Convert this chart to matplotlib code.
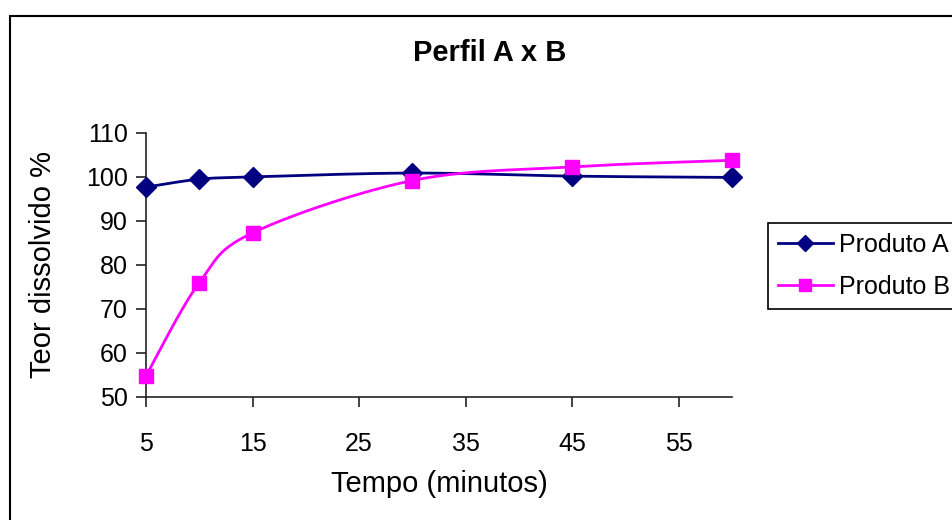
import numpy as np
import matplotlib.pyplot as plt
from matplotlib.patches import Rectangle
from matplotlib.lines import Line2D

plt.rcParams['font.family'] = ['Liberation Sans', 'DejaVu Sans']

# ---------------- DATA ----------------

tempo = [5, 10, 15, 30, 45, 60]
produto_a = [97.7, 99.5, 100.0, 100.9, 100.2, 99.9]
produto_b = [54.8, 76.0, 87.3, 99.2, 102.3, 103.8]

x_ticks = [5, 15, 25, 35, 45, 55]
y_ticks = [50, 60, 70, 80, 90, 100, 110]


def smooth(xs, ys, n=40):
    # parametric Catmull-Rom curve through the points (Excel-like smoothing)
    p = np.column_stack([xs, ys]).astype(float)
    p = np.vstack([p[0], p, p[-1]])
    out = []
    for i in range(1, len(p) - 2):
        p0, p1, p2, p3 = p[i - 1], p[i], p[i + 1], p[i + 2]
        c1 = p1 + (p2 - p0) / 6
        c2 = p2 - (p3 - p1) / 6
        t = np.linspace(0, 1, n)[:, None]
        seg = ((1 - t) ** 3) * p1 + 3 * ((1 - t) ** 2) * t * c1 \
            + 3 * (1 - t) * t ** 2 * c2 + t ** 3 * p2
        out.append(seg if i == 1 else seg[1:])
    seg = np.vstack(out)
    return seg[:, 0], seg[:, 1]


fig = plt.figure(figsize=(9.53, 5.2), dpi=100)
ax = fig.add_axes([146 / 953, 1 - 397 / 520, (732 - 146) / 953, (397 - 133) / 520])

navy = "#000080"
magenta = "#FF00FF"

xa, ya = smooth(tempo, produto_a)
xb, yb = smooth(tempo, produto_b)

ax.plot(xa, ya, color=navy, lw=2, clip_on=False, zorder=3)
ax.plot(tempo, produto_a, ls="none", marker="D", ms=10, color=navy,
        clip_on=False, zorder=4)
ax.plot(xb, yb, color=magenta, lw=2, clip_on=False, zorder=3)
ax.plot(tempo, produto_b, ls="none", marker="s", ms=10, color=magenta,
        clip_on=False, zorder=4)

ax.set_xlim(5, 60)
ax.set_ylim(50, 110)
ax.set_xticks(x_ticks)
ax.set_yticks(y_ticks)
ax.tick_params(axis="both", direction="out", length=7, width=1.2,
               labelsize=18, color="#222222")
ax.tick_params(axis="x", pad=18)
ax.tick_params(axis="y", pad=6)

for side in ["top", "right"]:
    ax.spines[side].set_visible(False)
for side in ["left", "bottom"]:
    ax.spines[side].set_linewidth(1.2)
    ax.spines[side].set_color("#222222")

ax.set_xlabel("Tempo (minutos)", fontsize=21, labelpad=10)
ax.set_ylabel("Teor dissolvido %", fontsize=21, labelpad=21)

fig.text(490 / 953, 1 - 53 / 520, "Perfil A x B", fontsize=21,
         fontweight="bold", ha="center", va="center")

# outer chart border
fig.patches.append(Rectangle((10 / 953, -0.2), 1.2, 1.2 - 16 / 520,
                             transform=fig.transFigure, fill=False,
                             edgecolor="black", lw=1.5, clip_on=False))

handles = [
    Line2D([], [], color=navy, lw=2, marker="D", ms=8, label="Produto A"),
    Line2D([], [], color=magenta, lw=2, marker="s", ms=8, label="Produto B"),
]
leg = fig.legend(handles=handles, loc="upper left",
                 bbox_to_anchor=(768 / 953, 1 - 223 / 520),
                 borderaxespad=0, fontsize=18, frameon=True, fancybox=False,
                 edgecolor="black", framealpha=1, borderpad=0.4,
                 handlelength=2.2, handletextpad=0.25, labelspacing=0.7)
leg.get_frame().set_linewidth(1.2)

fig.savefig("out.png", dpi=100)
